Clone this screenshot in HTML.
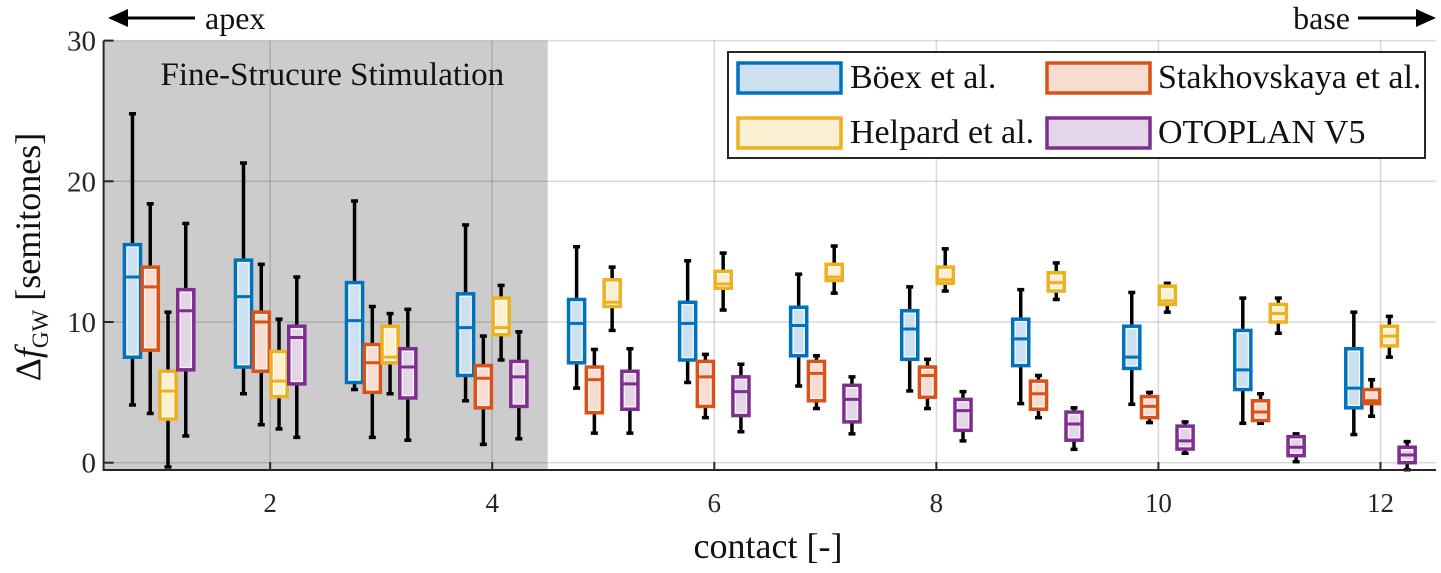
<!DOCTYPE html>
<html><head><meta charset="utf-8"><style>
body{margin:0;background:#fff;}
svg{display:block;font-family:"Liberation Serif",serif;}
</style></head><body>
<svg id="chart" width="1441" height="573" viewBox="0 0 1441 573" xmlns="http://www.w3.org/2000/svg"></svg>
<script>
const contacts=[1,2,3,4,5,6,7,8,9,10,11,12];
const seriesNames=["Böex et al.","Stakhovskaya et al.","Helpard et al.","OTOPLAN V5"];
// each: [low, q1, median, q3, high] per contact
const boex=[[4.1,7.5,13.2,15.5,24.8],[4.9,6.8,11.8,14.4,21.3],[5.2,5.7,10.1,12.8,18.6],[4.4,6.2,9.6,12.0,16.9],[5.3,7.1,9.9,11.6,15.35],[5.7,7.3,9.9,11.4,14.35],[5.45,7.6,9.75,11.05,13.4],[5.1,7.35,9.5,10.8,12.5],[4.2,6.9,8.8,10.2,12.3],[4.15,6.7,7.5,9.7,12.1],[2.8,5.2,6.6,9.4,11.7],[2.0,3.9,5.3,8.1,10.7]];
const stakh=[[3.5,8.0,12.5,13.9,18.4],[2.7,6.5,10.0,10.7,14.1],[1.8,5.0,7.1,8.4,11.1],[1.3,3.9,6.0,6.9,9.0],[2.1,3.55,5.9,6.8,8.05],[3.2,4.0,6.1,7.2,7.7],[3.85,4.4,6.35,7.2,7.6],[3.85,4.65,6.2,6.8,7.35],[3.2,3.8,4.9,5.8,6.2],[2.85,3.2,4.0,4.7,5.0],[2.8,3.0,3.6,4.4,4.9],[3.3,4.2,4.4,5.2,5.9]];
const help=[[-0.3,3.1,5.1,6.5,10.7],[2.4,4.7,5.8,7.9,10.2],[4.9,7.1,7.5,9.7,10.6],[7.3,9.1,9.6,11.7,12.6],[9.4,11.1,11.4,13.0,13.9],[10.85,12.4,12.7,13.6,14.9],[12.05,12.95,13.2,14.1,15.4],[12.2,12.75,13.0,13.9,15.2],[11.6,12.2,12.8,13.5,14.2],[10.7,11.25,11.5,12.55,12.75],[9.2,10.0,10.6,11.25,11.7],[7.5,8.3,9.0,9.7,10.4]];
const otop=[[1.9,6.6,10.8,12.3,17.0],[1.8,5.6,8.9,9.7,13.2],[1.6,4.6,6.8,8.1,10.9],[1.7,4.0,6.1,7.2,9.3],[2.1,3.8,5.6,6.5,8.1],[2.2,3.35,5.05,6.1,7.0],[2.05,2.9,4.5,5.5,6.1],[1.55,2.3,3.7,4.5,5.05],[0.95,1.6,2.75,3.6,3.9],[0.67,0.97,1.55,2.6,2.9],[0.07,0.5,1.1,1.85,2.05],[-0.5,0.0,0.55,1.1,1.5]];
const xTicks=[2,4,6,8,10,12];
const yTicks=[0,10,20,30];

const NS="http://www.w3.org/2000/svg";
const svg=document.getElementById('chart');
const X0=103.6,X1=1436,Y0=462.7,PXU=14.07;
const xs=c=>X0+(c-0.5)*(X1-X0)/12;
const ys=v=>Y0-v*PXU;
function el(t,a,p){const e=document.createElementNS(NS,t);for(const k in a)e.setAttribute(k,a[k]);(p||svg).appendChild(e);return e;}

const sh=el('rect',{x:X0,y:ys(30),width:xs(4.5)-X0,height:470-ys(30),fill:'#cccccc'});


for(let c=2;c<=12;c+=2){const g=el('line',{x1:xs(c),x2:xs(c),y1:ys(30),y2:470,stroke:'#000','stroke-opacity':0.15,'stroke-width':1.5});

}
yTicks.forEach(v=>{const g=el('line',{x1:X0,x2:X1,y1:ys(v),y2:ys(v),stroke:'#000','stroke-opacity':0.15,'stroke-width':1.5});

});

const t1=el('text',{x:xs(2.56),y:85,'font-size':33,'text-anchor':'middle',fill:'#111'});t1.textContent='Fine-Strucure Stimulation';



const colors=['#0072BD','#D95319','#EDB120','#7E2F8E'];
const fills=['#cde0f0','#f7dcd1','#fbefd2','#e5d5e8'];
const data=[boex,stakh,help,otop];
const offs=[-0.24,-0.08,0.08,0.24];
const bw=0.145*(X1-X0)/12;
data.forEach((ser,si)=>{
  const grp=el('g',{});
  
  
  ser.forEach((d,ci)=>{
    const cx=xs(contacts[ci]+offs[si]);
    const [lo,q1,md,q3,hi]=d;
    const w1=el('line',{x1:cx,x2:cx,y1:ys(q3),y2:ys(hi),stroke:'#000','stroke-width':3.5},grp);
    
    
    const w2=el('line',{x1:cx,x2:cx,y1:ys(q1),y2:ys(lo),stroke:'#000','stroke-width':3.5},grp);
    
    
    [hi,lo].forEach(v=>{const cp=el('line',{x1:cx-3.5,x2:cx+3.5,y1:ys(v),y2:ys(v),stroke:'#000','stroke-width':3.5},grp);
    
    });
    const b=el('rect',{x:cx-bw/2,y:ys(q3),width:bw,height:ys(q1)-ys(q3),fill:fills[si],stroke:colors[si],'stroke-width':3.5},grp);
    
    
    const inr=el('rect',{x:cx-bw/2+2.5,y:ys(q3)+2.5,width:bw-5,height:Math.max(0,ys(q1)-ys(q3)-5),fill:'none',stroke:'#fff','stroke-width':1.2,'stroke-opacity':0.8},grp);
    
    
    const m=el('line',{x1:cx-bw/2,x2:cx+bw/2,y1:ys(md),y2:ys(md),stroke:colors[si],'stroke-width':3},grp);
    
    
  });
});

const ax=el('path',{d:`M${X0} ${ys(30)}V470H${X1}`,fill:'none',stroke:'#262626','stroke-width':2});


xTicks.forEach(c=>{
  const tk=el('line',{x1:xs(c),x2:xs(c),y1:470,y2:462,stroke:'#262626','stroke-width':2});
  
  
  const t=el('text',{x:xs(c),y:512,'font-size':27,'text-anchor':'middle',fill:'#262626'});t.textContent=c;
  
  
});
yTicks.forEach(v=>{
  const tk=el('line',{x1:X0,x2:X0+10,y1:ys(v),y2:ys(v),stroke:'#262626','stroke-width':2});
  
  
  const t=el('text',{x:96,y:ys(v)+10,'font-size':29,'text-anchor':'end',fill:'#262626'});t.textContent=v;
  
  
});
</script>
<svg style="position:absolute;left:0;top:0" width="1441" height="573">
<g font-family="Liberation Serif, serif" fill="#111">
<text x="768" y="558" font-size="36" text-anchor="middle">contact [-]</text>
<text transform="translate(40,257) rotate(-90)" font-size="36" text-anchor="middle">Δ<tspan font-style="italic">f</tspan><tspan font-size="23" dy="8">GW</tspan><tspan dy="-8"> [semitones]</tspan></text>
<g><line x1="122" y1="18" x2="195" y2="18" stroke="#000" stroke-width="3"/><polygon points="108,18 128,9 128,27" fill="#000"/></g>
<text x="205" y="29" font-size="32">apex</text>
<text x="1350" y="29" font-size="32" text-anchor="end">base</text>
<g><line x1="1358" y1="18" x2="1420" y2="18" stroke="#000" stroke-width="3"/><polygon points="1436,18 1416,9 1416,27" fill="#000"/></g>
<g>
<rect x="728" y="52" width="697" height="106" fill="#fff" stroke="#262626" stroke-width="2"/>
<rect x="738" y="63" width="103" height="30" fill="#cde0f0" stroke="#0072BD" stroke-width="3.5"/>
<text x="850" y="88" font-size="34">Böex et al.</text>
<rect x="1047" y="63" width="103" height="30" fill="#f7dcd1" stroke="#D95319" stroke-width="3.5"/>
<text x="1158" y="88" font-size="34">Stakhovskaya et al.</text>
<rect x="738" y="118" width="103" height="30" fill="#fbefd2" stroke="#EDB120" stroke-width="3.5"/>
<text x="850" y="143" font-size="34">Helpard et al.</text>
<rect x="1047" y="118" width="103" height="30" fill="#e5d5e8" stroke="#7E2F8E" stroke-width="3.5"/>
<text x="1158" y="143" font-size="34">OTOPLAN V5</text>
</g>
</g>
</svg>
</body></html>
